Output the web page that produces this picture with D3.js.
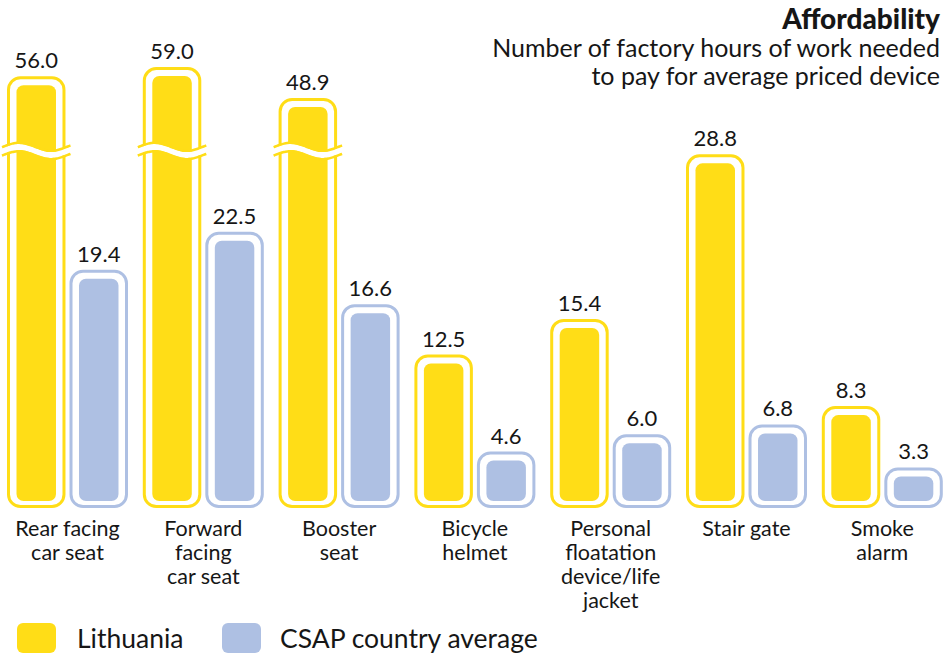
<!DOCTYPE html>
<html><head><meta charset="utf-8">
<script src="https://cdnjs.cloudflare.com/ajax/libs/d3/7.8.5/d3.min.js"></script>
<style>body{margin:0;background:#fff;}svg{display:block;font-family:Lato,"Open Sans",sans-serif;}</style>
</head><body><svg id="c" width="951" height="655"></svg>
<script>
const categories = ["Rear facing car seat","Forward facing car seat","Booster seat","Bicycle helmet","Personal floatation device/life jacket","Stair gate","Smoke alarm"];
const categoryLines = [["Rear facing","car seat"],["Forward","facing","car seat"],["Booster","seat"],["Bicycle","helmet"],["Personal","floatation","device/life","jacket"],["Stair gate"],["Smoke","alarm"]];
const lithuania = [56.0, 59.0, 48.9, 12.5, 15.4, 28.8, 8.3];
const csap = [19.4, 22.5, 16.6, 4.6, 6.0, 6.8, 3.3];
const seriesNames = ["Lithuania", "CSAP country average"];
const colors = {"Lithuania": "#FFDD17", "CSAP country average": "#AEC0E3"};
const breakThreshold = 40;

const svg = d3.select("#c");
const base = 508;
const x = d3.scaleBand().domain(categories).range([7, 942.8]).paddingInner(0.109).paddingOuter(0);
const xs = d3.scaleBand().domain(seriesNames).range([0, x.bandwidth()]).paddingInner(0.0645);
const y = d3.scaleLinear().domain([0, 30]).range([base, base - 30 * 12.28]);
const yTop = d3.scaleLinear().domain([45, 60]).range([110, 64]);
const topOf = v => v > breakThreshold ? yTop(v) : y(v);
const breakY = 151;

const data = [];
categories.forEach((c, i) => {
  data.push({cat: c, s: seriesNames[0], v: lithuania[i]});
  data.push({cat: c, s: seriesNames[1], v: csap[i]});
});

const g = svg.append("g");
const bars = g.selectAll("g.bar").data(data).join("g").attr("class", "bar")
  .attr("transform", d => `translate(${x(d.cat) + xs(d.s)},0)`);
const w = xs.bandwidth();
bars.append("rect")
  .attr("x", 1.5).attr("y", d => topOf(d.v) + 1.5)
  .attr("width", w - 3).attr("height", d => base - topOf(d.v) - 3)
  .attr("rx", 12).attr("fill", "#fff").attr("stroke", d => colors[d.s]).attr("stroke-width", 3);
bars.append("rect")
  .attr("x", 9.5).attr("y", d => topOf(d.v) + 9)
  .attr("width", w - 19).attr("height", d => base - topOf(d.v) - 16)
  .attr("rx", 7).attr("fill", d => colors[d.s]);

// break marks
const wave = (off) => {
  const pts = d3.range(0, 41).map(k => {
    const t = k / 40;
    const xx = -5 + t * (w + 10);
    return [xx, breakY + off - 4 * Math.sin(2 * Math.PI * (xx + 4) / 64)];
  });
  return d3.line().curve(d3.curveBasis)(pts);
};
const broken = bars.filter(d => d.v > breakThreshold);
broken.append("path").attr("d", wave(0)).attr("fill", "none").attr("stroke", "#fff").attr("stroke-width", 6);
broken.append("path").attr("d", wave(-4.2)).attr("fill", "none").attr("stroke", d => colors[d.s]).attr("stroke-width", 2.5);
broken.append("path").attr("d", wave(4.2)).attr("fill", "none").attr("stroke", d => colors[d.s]).attr("stroke-width", 2.5);

// value labels
bars.append("text").attr("x", w / 2).attr("y", d => topOf(d.v) - 8)
  .attr("text-anchor", "middle").attr("font-size", 22).attr("fill", "#161616")
  .text(d => d.v.toFixed(1));

// category labels
const cl = g.selectAll("text.cat").data(categories).join("text").attr("class", "cat")
  .attr("text-anchor", "middle").attr("font-size", 21.5).attr("fill", "#161616")
  .attr("transform", d => `translate(${x(d) + x.bandwidth() / 2},536)`);
cl.selectAll("tspan").data((d, i) => categoryLines[i]).join("tspan")
  .attr("x", 0).attr("y", (d, i) => i * 24).text(d => d);

// title
svg.append("text").attr("x", 940).attr("y", 29).attr("text-anchor", "end")
  .attr("font-size", 28).attr("font-weight", 900).attr("fill", "#161616").text("Affordability");
svg.append("text").attr("x", 940).attr("y", 57).attr("text-anchor", "end")
  .attr("font-size", 25).attr("fill", "#161616").text("Number of factory hours of work needed");
svg.append("text").attr("x", 940).attr("y", 85).attr("text-anchor", "end")
  .attr("font-size", 25).attr("fill", "#161616").text("to pay for average priced device");

// legend
const legX = [17, 222];
const leg = svg.selectAll("g.leg").data(seriesNames).join("g").attr("class", "leg")
  .attr("transform", (d, i) => `translate(${legX[i]},623)`);
leg.append("rect").attr("width", 39).attr("height", 30).attr("rx", 6).attr("fill", d => colors[d]);
leg.append("text").attr("x", (d, i) => i === 0 ? 60 : 58).attr("y", 25).attr("font-size", 26.5).attr("fill", "#161616").text(d => d);
</script></body></html>
